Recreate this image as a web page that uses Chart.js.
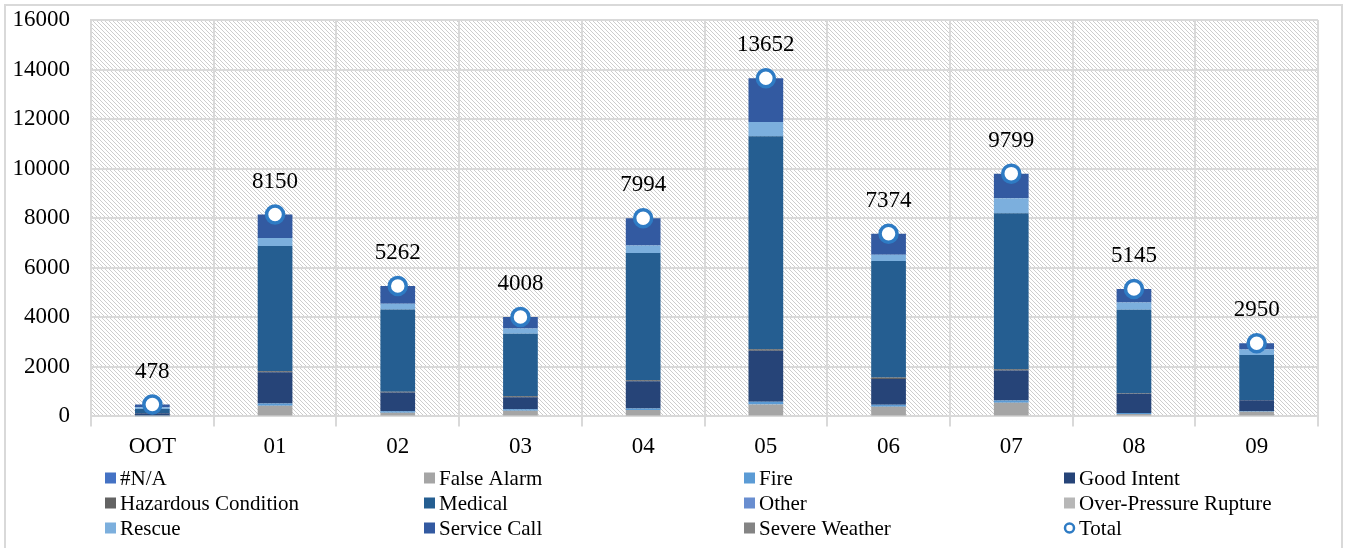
<!DOCTYPE html>
<html><head><meta charset="utf-8">
<script src="https://cdn.jsdelivr.net/npm/chart.js@4"></script>
<style>html,body{margin:0;padding:0;background:#fff}#wrap{width:1346px;height:548px;position:relative}</style>
</head><body><div id="wrap"><canvas id="c" width="1346" height="548"></canvas></div>
<script>
const categories = ['OOT','01','02','03','04','05','06','07','08','09'];
const seriesNames = ['#N/A','False Alarm','Fire','Good Intent','Hazardous Condition','Medical','Other','Over-Pressure Rupture','Rescue','Service Call','Severe Weather'];
const naValues       = [0,0,0,0,0,0,0,0,0,0];
const falseAlarm     = [10,430,150,230,260,480,390,550,100,190];
const fire           = [30,90,55,60,60,110,80,95,40,20];
const goodIntent     = [90,1260,755,485,1095,2055,1040,1205,775,445];
const hazardous      = [5,40,30,40,40,65,65,50,20,10];
const medical        = [160,5060,3327,2518,5144,8602,4694,6304,3365,1810];
const other          = [0,0,0,0,0,0,0,0,0,0];
const overPressure   = [0,0,0,0,0,0,0,0,0,0];
const rescue         = [70,325,230,215,300,570,255,600,300,230];
const serviceCall    = [113,945,715,460,1095,1770,850,995,545,245];
const severeWeather  = [0,0,0,0,0,0,0,0,0,0];
const totals         = [478,8150,5262,4008,7994,13652,7374,9799,5145,2950];
const yTicks         = [0,2000,4000,6000,8000,10000,12000,14000,16000];

const seriesValues = [naValues,falseAlarm,fire,goodIntent,hazardous,medical,other,overPressure,rescue,serviceCall,severeWeather];
const seriesColors = ['#4472C4','#A5A5A5','#5B9BD5','#264478','#636363','#255E91','#698ED0','#B7B7B7','#7CAFDD','#335AA1','#848484'];

const FONT = '"Liberation Serif", "Times New Roman", serif';

const bgPlugin = {
  id: 'bgHatch',
  beforeDraw(chart) {
    const {ctx, chartArea: a} = chart;
    ctx.save();
    ctx.fillStyle = '#fff';
    ctx.fillRect(0,0,chart.width,chart.height);
    const t = document.createElement('canvas');
    t.width = 4; t.height = 4;
    const g = t.getContext('2d');
    g.fillStyle = '#ffffff'; g.fillRect(0,0,4,4);
    g.fillStyle = '#cdcdcd';
    for (let i = 0; i < 4; i++) g.fillRect(i, i, 1, 1);
    ctx.fillStyle = ctx.createPattern(t, 'repeat');
    ctx.fillRect(a.left, a.top, a.right - a.left, a.bottom - a.top);
    ctx.restore();
  }
};

const labelPlugin = {
  id: 'totLabels',
  afterDatasetsDraw(chart) {
    const idx = chart.data.datasets.length - 1;
    const meta = chart.getDatasetMeta(idx);
    const ctx = chart.ctx;
    ctx.save();
    ctx.font = '23px ' + FONT;
    ctx.fillStyle = '#000';
    ctx.textAlign = 'center';
    ctx.textBaseline = 'middle';
    meta.data.forEach((pt, i) => {
      ctx.fillText(String(chart.data.datasets[idx].data[i]), pt.x, pt.y - 33);
    });
    ctx.restore();
  }
};

const legendCols = [105, 424, 744, 1064];
const legendRows = [478, 503, 528];
const legendPlugin = {
  id: 'customLegend',
  afterDraw(chart) {
    const ctx = chart.ctx;
    ctx.save();
    ctx.font = '21px ' + FONT;
    ctx.textBaseline = 'middle';
    ctx.textAlign = 'left';
    chart.data.datasets.forEach((ds, i) => {
      const x = legendCols[i % 4], y = legendRows[Math.floor(i / 4)];
      if (ds.type === 'line') {
        ctx.beginPath();
        ctx.arc(x + 5.5, y, 4.5, 0, Math.PI * 2);
        ctx.fillStyle = '#fff'; ctx.fill();
        ctx.lineWidth = 2.5; ctx.strokeStyle = ds.borderColor; ctx.stroke();
      } else {
        ctx.fillStyle = ds.backgroundColor;
        ctx.fillRect(x, y - 5.5, 11, 11);
      }
      ctx.fillStyle = '#000';
      ctx.fillText(ds.label, x + 15, y + 1);
    });
    ctx.strokeStyle = '#d9d9d9';
    ctx.lineWidth = 2;
    ctx.strokeRect(5, 5, 1337, 560);
    ctx.restore();
  }
};

const datasets = seriesNames.map((name, i) => ({
  type: 'bar',
  label: name,
  data: seriesValues[i],
  backgroundColor: seriesColors[i],
  borderWidth: 0,
  stack: 'calls',
  order: 1,
  categoryPercentage: 1.0,
  barPercentage: 0.283
}));
datasets.push({
  type: 'line',
  label: 'Total',
  data: totals,
  showLine: false,
  borderColor: '#2E7BC4',
  backgroundColor: '#ffffff',
  pointRadius: 8.5,
  pointBorderWidth: 3.5,
  pointBackgroundColor: '#ffffff',
  pointBorderColor: '#2E7BC4',
  stack: 'total',
  order: 0,
  clip: false
});

new Chart(document.getElementById('c'), {
  data: { labels: categories, datasets },
  options: {
    responsive: false,
    animation: false,
    layout: { autoPadding: false, padding: { left: 0, right: 28, top: 20, bottom: 80 } },
    plugins: { legend: { display: false }, tooltip: { enabled: false } },
    scales: {
      x: {
        stacked: true,
        offset: true,
        grid: { color: '#d9d9d9', lineWidth: 2, offset: true, tickLength: 10, drawTicks: true },
        border: { color: '#d9d9d9', width: 2 },
        ticks: { color: '#000', font: { family: FONT, size: 23 }, padding: 7, maxRotation: 0 }
      },
      y: {
        stacked: true,
        min: 0, max: 16000,
        afterBuildTicks(s) { s.ticks = yTicks.map(v => ({ value: v })); },
        afterFit(s) { s.width = 91; s.paddingTop = 0; s.paddingBottom = 0; },
        grid: { color: '#d9d9d9', lineWidth: 2, drawTicks: false },
        border: { color: '#d9d9d9', width: 2 },
        ticks: { color: '#000', font: { family: FONT, size: 23 }, padding: 21, callback: v => String(v) }
      }
    }
  },
  plugins: [bgPlugin, labelPlugin, legendPlugin]
});
</script>
</body></html>
